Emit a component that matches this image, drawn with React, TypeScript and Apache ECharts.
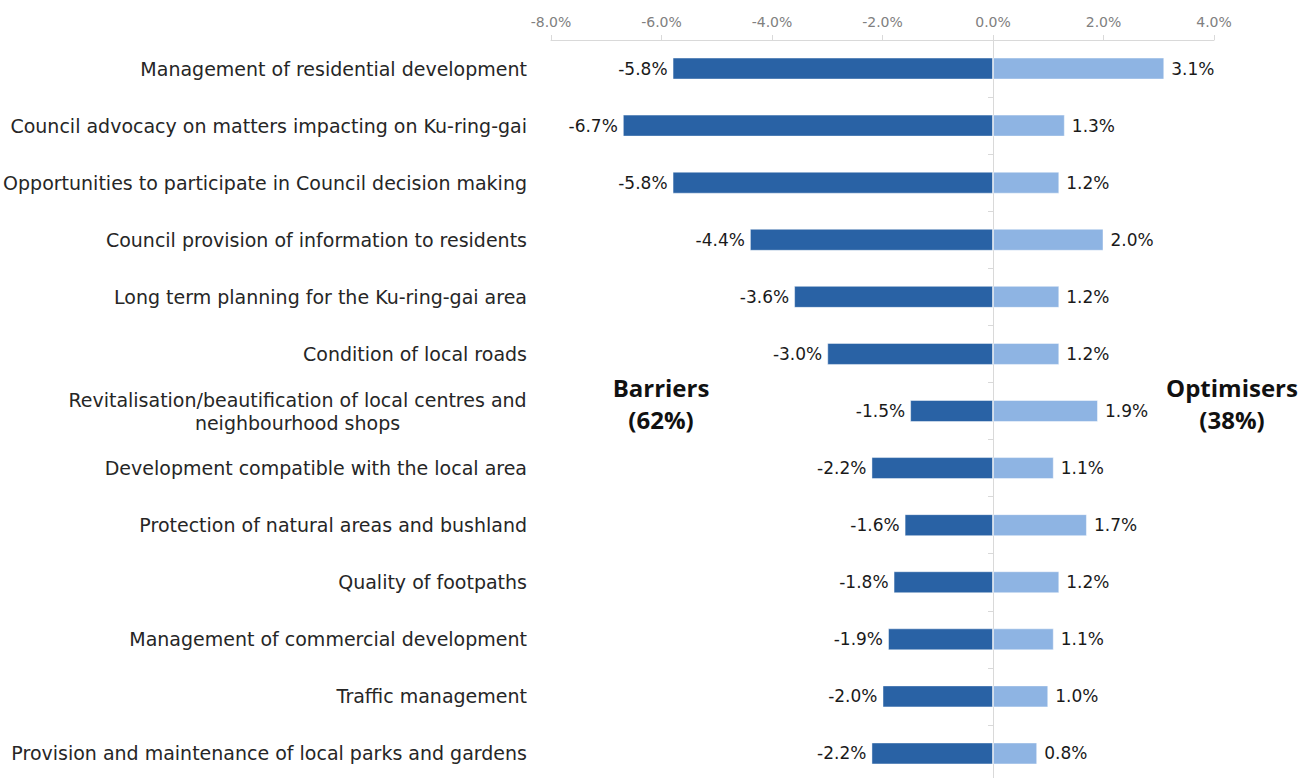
import React, { useEffect, useRef } from "react";
import * as echarts from "echarts";

const categories = [
  "Management of residential development",
  "Council advocacy on matters impacting on Ku-ring-gai",
  "Opportunities to participate in Council decision making",
  "Council provision of information to residents",
  "Long term planning for the Ku-ring-gai area",
  "Condition of local roads",
  "Revitalisation/beautification of local centres and\nneighbourhood shops",
  "Development compatible with the local area",
  "Protection of natural areas and bushland",
  "Quality of footpaths",
  "Management of commercial development",
  "Traffic management",
  "Provision and maintenance of local parks and gardens",
];
const barriers = [-5.8, -6.7, -5.8, -4.4, -3.6, -3.0, -1.5, -2.2, -1.6, -1.8, -1.9, -2.0, -2.2];
const optimisers = [3.1, 1.3, 1.2, 2.0, 1.2, 1.2, 1.9, 1.1, 1.7, 1.2, 1.1, 1.0, 0.8];
const xMin = -8;
const xMax = 4;
const xInterval = 2;

const FONT = "'DejaVu Sans', sans-serif";
const CAT_SIZE = 19;

function measure(text: string, font: string) {
  const c = document.createElement("canvas").getContext("2d")!;
  c.font = font;
  return c.measureText(text).width;
}

export default function App() {
  const ref = useRef<HTMLDivElement>(null);
  useEffect(() => {
    const chart = echarts.init(ref.current!, null, { renderer: "svg" });
    const catFormatter = (v: string) => {
      if (v.indexOf("\n") >= 0) {
        return v
          .split("\n")
          .map((l) => "{c|" + l + "}")
          .join("\n");
      }
      return v;
    };
    const multi = categories.find((c) => c.indexOf("\n") >= 0) || "";
    const w = Math.ceil(
      Math.max(...multi.split("\n").map((l) => measure(l, CAT_SIZE + "px 'DejaVu Sans'")))
    );
    chart.setOption({
      animation: false,
      grid: { left: 551, right: 100, top: 40, bottom: 0 },
      xAxis: {
        type: "value",
        position: "top",
        min: xMin,
        max: xMax,
        interval: xInterval,
        axisLine: { show: true, lineStyle: { color: "#D9D9D9", width: 1 } },
        axisTick: { show: true, length: 5, lineStyle: { color: "#D9D9D9" } },
        splitLine: { show: false },
        axisLabel: {
          margin: 11,
          color: "#808080",
          fontSize: 14,
          fontFamily: FONT,
          formatter: (v: number) => v.toFixed(1) + "%",
        },
      },
      yAxis: [
        {
          type: "category",
          data: categories,
          inverse: true,
          axisLine: { show: false, onZero: false },
          axisTick: { show: false },
          axisLabel: {
            margin: 24,
            color: "#262626",
            fontSize: CAT_SIZE,
            fontFamily: FONT,
            lineHeight: 23,
            formatter: catFormatter,
            rich: {
              c: { width: w, align: "center", fontSize: CAT_SIZE, fontFamily: FONT, color: "#262626", lineHeight: 23 },
            },
          },
        },
        {
          type: "category",
          data: categories,
          inverse: true,
          position: "left",
          axisLine: { show: true, onZero: true, lineStyle: { color: "#D9D9D9", width: 1 } },
          axisTick: { show: true, length: 5, lineStyle: { color: "#D9D9D9" } },
          axisLabel: { show: false },
        },
      ],
      series: [
        {
          type: "bar",
          name: "Barriers",
          stack: "s",
          data: barriers,
          barWidth: 22,
          itemStyle: { color: "#2962A5", borderColor: "rgba(255,255,255,0.45)", borderWidth: 1 },
          label: {
            show: true,
            position: "left",
            distance: 5,
            color: "#1a1a1a",
            fontSize: 17,
            fontFamily: FONT,
            formatter: (p: any) => Number(p.value).toFixed(1) + "%",
          },
        },
        {
          type: "bar",
          name: "Optimisers",
          stack: "s",
          data: optimisers,
          barWidth: 22,
          itemStyle: { color: "#8EB4E3", borderColor: "rgba(255,255,255,0.45)", borderWidth: 1 },
          label: {
            show: true,
            position: "right",
            distance: 7,
            color: "#1a1a1a",
            fontSize: 17,
            fontFamily: FONT,
            formatter: (p: any) => Number(p.value).toFixed(1) + "%",
          },
        },
      ],
      graphic: [
        {
          type: "text",
          x: 661,
          y: 371,
          style: {
            text: "Barriers\n(62%)",
            align: "center",
            font: "bold 24px 'Open Sans', sans-serif",
            fill: "#111",
            lineHeight: 32,
          },
        },
        {
          type: "text",
          x: 1232,
          y: 371,
          style: {
            text: "Optimisers\n(38%)",
            align: "center",
            font: "bold 24px 'Open Sans', sans-serif",
            fill: "#111",
            lineHeight: 32,
          },
        },
      ],
    });
    return () => chart.dispose();
  }, []);
  return (
    <div style={{ position: "absolute", left: 0, top: 0, width: 1314, height: 778, overflow: "hidden" }}>
      <div ref={ref} style={{ width: 1314, height: 782 }} />
    </div>
  );
}
